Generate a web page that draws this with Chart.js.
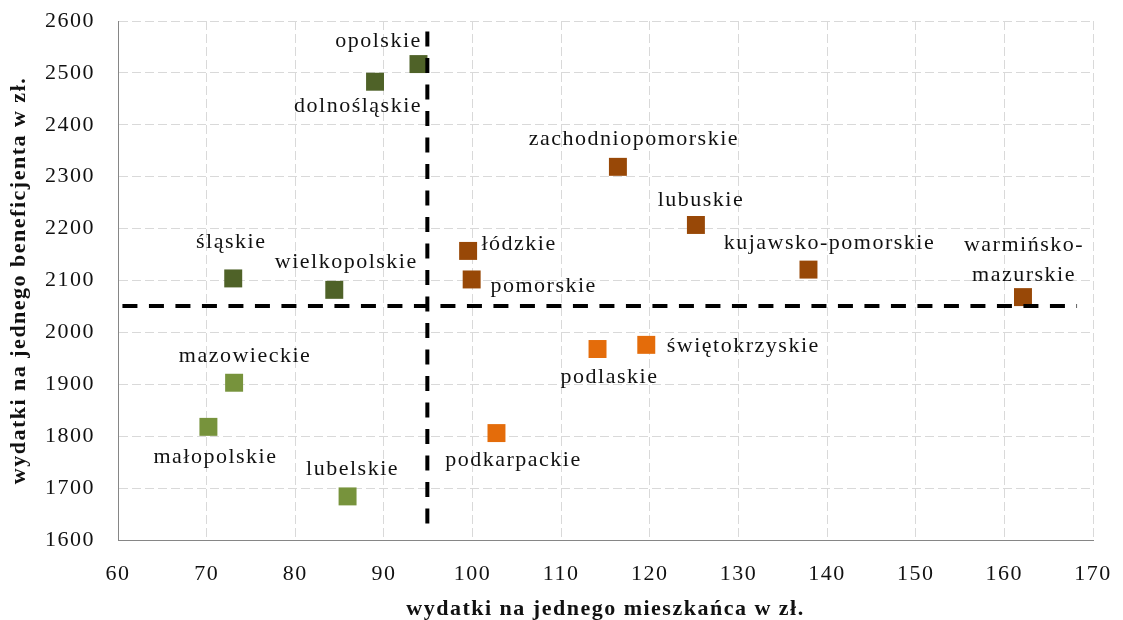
<!DOCTYPE html>
<html>
<head>
<meta charset="utf-8">
<script src="https://cdn.jsdelivr.net/npm/chart.js@4.4.1/dist/chart.umd.min.js"></script>
<style>
  html, body { margin: 0; padding: 0; background: #fff; }
</style>
</head>
<body>
<canvas id="Chart1" width="1123" height="620"></canvas>
<script>
// wydatki na jednego mieszkańca (oś X) i na jednego beneficjenta (oś Y), w zł
const regionsNW = ['opolskie', 'dolnośląskie', 'śląskie', 'wielkopolskie'];
const perResidentNW = [93.9, 89.0, 73.0, 84.4];
const perBeneficiaryNW = [2517, 2483, 2104, 2082];

const regionsSW = ['mazowieckie', 'małopolskie', 'lubelskie'];
const perResidentSW = [73.1, 70.2, 85.9];
const perBeneficiarySW = [1903, 1818, 1684];

const regionsNE = ['zachodniopomorskie', 'lubuskie', 'łódzkie', 'pomorskie', 'kujawsko-pomorskie', 'warmińsko-\nmazurskie'];
const perResidentNE = [116.4, 125.2, 99.5, 99.9, 137.9, 162.1];
const perBeneficiaryNE = [2319, 2207, 2157, 2102, 2121, 2068];

const regionsSE = ['podkarpackie', 'podlaskie', 'świętokrzyskie'];
const perResidentSE = [102.7, 114.1, 119.6];
const perBeneficiarySE = [1806, 1968, 1976];

// średnie (linie przerywane)
const avgResident = 94.9;
const avgBeneficiary = 2051;
const avgLineYRange = [2580, 1623];
const avgLineXRange = [60.5, 168.2];

// osie
const xMin = 60, xMax = 170, xStep = 10;
const yMin = 1600, yMax = 2600, yStep = 100;

// przesunięcia etykiet względem punktu (px)
const labelPosNW = [[-40, -23], [-17, 24], [-2, -36], [12, -28]];
const labelPosSW = [[11, -27], [7, 30], [5, -27]];
const labelPosNE = [[16, -28], [5, -25], [51, -7], [72, 7], [21, -26], [1, -37]];
const labelPosSE = [[17, 27], [12, 28], [97, 1]];

const serif = '"Liberation Serif", "Times New Roman", serif';

function toPoints(xs, ys) {
  return xs.map((x, i) => ({ x: x, y: ys[i] }));
}

function groupDataset(names, xs, ys, labelPos, color) {
  return {
    type: 'scatter',
    data: toPoints(xs, ys),
    names: names,
    labelPos: labelPos,
    backgroundColor: color,
    borderWidth: 0,
    pointStyle: 'rect',
    pointRadius: 12.7,
    pointHoverRadius: 12.7,
    order: 2
  };
}

function avgLine(points) {
  return {
    type: 'line',
    data: points,
    borderColor: '#000',
    borderWidth: 4,
    borderDash: [15, 11.5],
    pointRadius: 0,
    fill: false,
    tension: 0,
    order: 1
  };
}

// Plugin: etykiety województw przy punktach
const regionLabels = {
  id: 'regionLabels',
  beforeDraw(chart) {
    chart.ctx.letterSpacing = '1.5px';
  },
  afterDatasetsDraw(chart) {
    const ctx = chart.ctx;
    ctx.save();
    ctx.font = '22px ' + serif;
    ctx.letterSpacing = '1.5px';
    ctx.fillStyle = '#111';
    ctx.textAlign = 'center';
    ctx.textBaseline = 'middle';
    chart.data.datasets.forEach((ds, di) => {
      if (!ds.names) return;
      const meta = chart.getDatasetMeta(di);
      meta.data.forEach((pt, i) => {
        const off = ds.labelPos[i];
        const lines = ds.names[i].split('\n');
        const lh = 30;
        const startY = pt.y + off[1] - (lines.length - 1) * lh / 2;
        lines.forEach((line, li) => {
          ctx.fillText(line, pt.x + off[0], startY + li * lh);
        });
      });
    });
    ctx.restore();
  }
};

function renderChart() {
  const ctx = document.getElementById('Chart1').getContext('2d');
  new Chart(ctx, {
    type: 'scatter',
    data: {
      datasets: [
        avgLine([{ x: avgResident, y: avgLineYRange[0] }, { x: avgResident, y: avgLineYRange[1] }]),
        avgLine([{ x: avgLineXRange[0], y: avgBeneficiary }, { x: avgLineXRange[1], y: avgBeneficiary }]),
        groupDataset(regionsNW, perResidentNW, perBeneficiaryNW, labelPosNW, '#4F6228'),
        groupDataset(regionsSW, perResidentSW, perBeneficiarySW, labelPosSW, '#77933C'),
        groupDataset(regionsNE, perResidentNE, perBeneficiaryNE, labelPosNE, '#984807'),
        groupDataset(regionsSE, perResidentSE, perBeneficiarySE, labelPosSE, '#E46C0A')
      ]
    },
    options: {
      responsive: false,
      animation: false,
      devicePixelRatio: 1,
      layout: { padding: 0 },
      plugins: {
        legend: { display: false },
        tooltip: { enabled: false }
      },
      scales: {
        x: {
          type: 'linear',
          min: xMin,
          max: xMax,
          afterFit: s => {
            s.height = 80;
            s.paddingLeft = 0;
            s.paddingRight = 30;
          },
          ticks: {
            stepSize: xStep,
            padding: 21,
            color: '#111',
            font: { family: serif, size: 22 },
            callback: v => String(v)
          },
          grid: { color: '#d9d9d9', lineWidth: 1, drawTicks: false },
          border: { display: true, color: '#868686', width: 1, dash: [9, 4] },
          title: {
            display: true,
            text: 'wydatki na jednego mieszkańca w zł.',
            color: '#111',
            font: { family: serif, size: 22, weight: 'bold', lineHeight: 1 },
            padding: { top: 0, bottom: 0 }
          }
        },
        y: {
          type: 'linear',
          min: yMin,
          max: yMax,
          afterFit: s => {
            s.width = 118;
            s.paddingTop = 21;
            s.paddingBottom = 0;
          },
          ticks: {
            stepSize: yStep,
            padding: 23,
            color: '#111',
            font: { family: serif, size: 22 },
            callback: v => String(v)
          },
          grid: { color: '#d9d9d9', lineWidth: 1, drawTicks: false },
          border: { display: true, color: '#868686', width: 1, dash: [9, 4] },
          title: {
            display: true,
            text: 'wydatki na jednego beneficjenta w zł.',
            color: '#111',
            font: { family: serif, size: 22, weight: 'bold', lineHeight: 1 },
            padding: { top: 8, bottom: 0 }
          }
        }
      }
    },
    plugins: [regionLabels]
  });
}

document.addEventListener('DOMContentLoaded', renderChart);
</script>
</body>
</html>
